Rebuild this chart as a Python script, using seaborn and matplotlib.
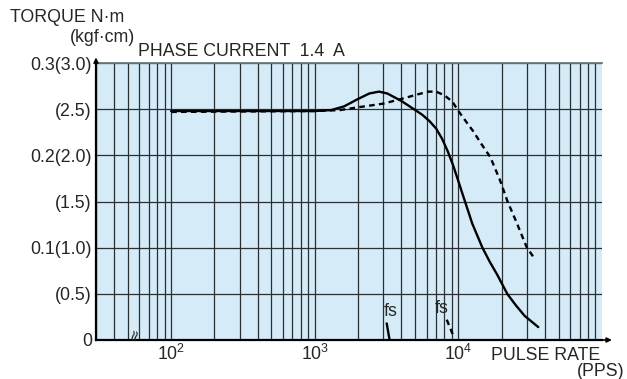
import matplotlib
matplotlib.use("Agg")
import matplotlib.pyplot as plt
import seaborn as sns
import pandas as pd

# torque curves (x in PPS, y in kgf·cm)
solid_x = [100, 1000, 1300, 1600, 2000, 2400, 2800, 3200, 4000, 4900, 5600, 6300, 7000,
           7700, 8400, 9200, 10000, 10800, 12500, 14700, 16500, 18600, 21900, 25000, 29000, 36000]
solid_y = [2.48, 2.48, 2.49, 2.53, 2.61, 2.67, 2.69, 2.67, 2.59, 2.50, 2.44, 2.37, 2.29,
           2.18, 2.05, 1.89, 1.72, 1.56, 1.26, 1.00, 0.85, 0.71, 0.50, 0.38, 0.26, 0.14]
dashed_x = [100, 1000, 1500, 2000, 3000, 4000, 5200, 6200, 7000, 8000, 9100, 10000,
            11500, 12700, 14500, 16700, 19500, 22000, 25000, 30000, 34000]
dashed_y = [2.47, 2.48, 2.49, 2.52, 2.56, 2.61, 2.66, 2.69, 2.69, 2.65, 2.58, 2.48,
            2.35, 2.26, 2.12, 1.98, 1.73, 1.50, 1.30, 1.00, 0.88]

# fs markers
fs_solid_x = [3170, 3320]
fs_solid_y = [0.18, 0.0]
fs_dash_x = [8300, 9200]
fs_dash_y = [0.22, 0.05]

ytick_vals = [0, 0.5, 1.0, 1.5, 2.0, 2.5, 3.0]
ytick_labels = ['0', '(0.5)', '0.1(1.0)', '(1.5)', '0.2(2.0)', '(2.5)', '0.3(3.0)']
xtick_vals = [100, 1000, 10000]
xtick_labels = [r'$\mathregular{10^{2}}$', r'$\mathregular{10^{3}}$', r'$\mathregular{10^{4}}$']

sns.set_style("white", {"axes.facecolor": "#d5ebf8"})
plt.rcParams['font.family'] = ['Liberation Sans', 'DejaVu Sans']
plt.rcParams['mathtext.fontset'] = 'custom'
plt.rcParams['mathtext.rm'] = 'Liberation Sans'

fs_txt = 12.8

fig = plt.figure(figsize=(6.27, 3.79), dpi=100)
ax = fig.add_axes([96 / 627, 39 / 379, 506 / 627, 277 / 379])

solid = pd.DataFrame({'x': solid_x, 'y': solid_y})
dashed = pd.DataFrame({'x': dashed_x, 'y': dashed_y})
sns.lineplot(data=solid, x='x', y='y', sort=False, color='black', lw=1.7, ax=ax, zorder=5)
sns.lineplot(data=dashed, x='x', y='y', sort=False, color='black', lw=1.7,
             linestyle=(0, (2.4, 1.8)), ax=ax, zorder=5)
ax.plot(fs_solid_x, fs_solid_y, color='black', lw=1.7, zorder=5)
ax.plot(fs_dash_x, fs_dash_y, color='black', lw=1.7, linestyle=(0, (2.4, 1.8)), zorder=5)

ax.set_xscale('log')
ax.set_xlim(30, 1e5)
ax.set_ylim(0, 3.0)

ax.grid(True, which='both', axis='x', color='#2a2f33', lw=0.9)
ax.grid(True, which='major', axis='y', color='#2a2f33', lw=0.9)
ax.set_axisbelow(True)

ax.set_yticks(ytick_vals)
ax.set_yticklabels(ytick_labels, fontsize=fs_txt)
ax.set_xticks(xtick_vals)
ax.set_xticklabels(xtick_labels, fontsize=fs_txt)
ax.tick_params(axis='both', which='both', length=0, pad=3)
ax.set_xlabel('')
ax.set_ylabel('')

ax.spines['right'].set_visible(False)
ax.spines['top'].set_color('#6d7880')
ax.spines['top'].set_linewidth(1.3)
ax.spines['left'].set_linewidth(1.6)
ax.spines['bottom'].set_linewidth(1.6)
ax.spines['left'].set_color('black')
ax.spines['bottom'].set_color('black')

# axis arrows
ax.annotate('', xy=(0, 1.03), xytext=(0, 0.98), xycoords='axes fraction',
            arrowprops=dict(arrowstyle='-|>', color='black', lw=1.2, mutation_scale=7),
            annotation_clip=False)
ax.annotate('', xy=(1.025, 0), xytext=(0.99, 0), xycoords='axes fraction',
            arrowprops=dict(arrowstyle='-|>', color='black', lw=1.2, mutation_scale=7),
            annotation_clip=False)

# axis break mark
ax.text(55, 0.06, '≈', rotation=78, fontsize=11, ha='center', va='center',
        family=['DejaVu Sans'], zorder=6)

ax.text(3400, 0.22, 'fs', fontsize=fs_txt, ha='center', va='bottom')
ax.text(7700, 0.25, 'fs', fontsize=fs_txt, ha='center', va='bottom')

fig.text(10 / 627, 1 - 18 / 379, 'TORQUE N·m', fontsize=fs_txt, ha='left', va='center')
fig.text(135 / 627, 1 - 38 / 379, '(kgf·cm)', fontsize=fs_txt, ha='right', va='center')
fig.text(138 / 627, 1 - 52 / 379, 'PHASE CURRENT  1.4  A', fontsize=fs_txt, ha='left', va='center')
fig.text(600 / 627, 1 - 355 / 379, 'PULSE RATE', fontsize=fs_txt, ha='right', va='center')
fig.text(625 / 627, 1 - 372 / 379, '(PPS)', fontsize=fs_txt, ha='right', va='center')

fig.savefig('out.png', dpi=100)
